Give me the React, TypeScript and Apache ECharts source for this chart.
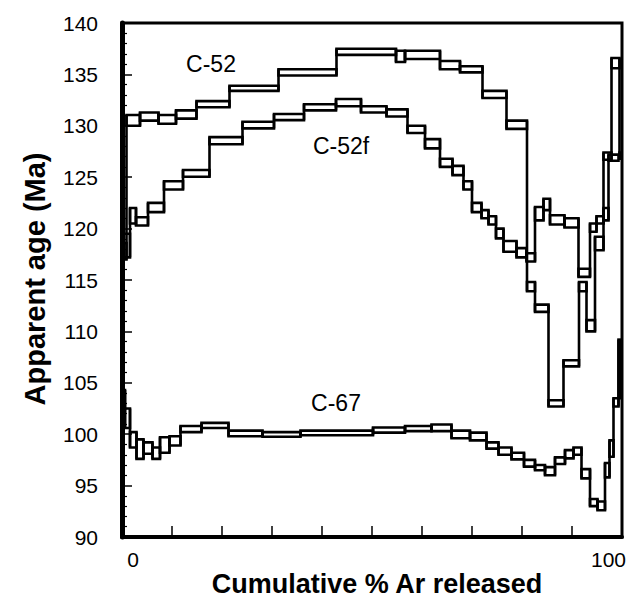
import React, { useEffect, useRef } from "react";
import * as echarts from "echarts";

// C-52 : step boundaries (cumulative % 39Ar) and 2-sigma age envelopes (Ma)
const c52Bounds = [0, 0.9, 3.6, 7.3, 10.8, 14.9, 21.5, 31.3, 42.9, 54.8, 56.6, 63.6, 67.6, 72.1, 76.9, 81.0, 82.6, 85.3, 88.3, 91.4, 92.9, 94.6, 96.3, 97.9, 99.5, 100];
const c52Lo = [117.0, 130.0, 130.5, 130.2, 130.7, 131.8, 133.4, 134.9, 136.9, 136.2, 136.5, 135.5, 135.2, 132.7, 129.7, 113.9, 111.9, 102.7, 106.6, 113.9, 110.0, 117.9, 126.7, 135.6, 126.8];
const c52Hi = [118.6, 131.05, 131.3, 131.05, 131.5, 132.4, 133.9, 135.5, 137.5, 137.3, 137.3, 136.3, 135.8, 133.4, 130.5, 114.8, 112.6, 103.3, 107.2, 114.8, 111.1, 119.2, 127.4, 136.6, 127.4];

// C-52f
const c52fBounds = [0, 1.6, 2.8, 5.2, 8.4, 12.2, 17.5, 24.1, 30.4, 36.4, 42.8, 47.8, 52.9, 57.1, 60.6, 63.6, 66.1, 68.3, 70.0, 71.9, 73.3, 74.8, 76.3, 78.9, 80.9, 82.6, 84.3, 85.6, 88.5, 91.3, 93.6, 94.9, 96.3, 97.3, 99.3];
const c52fLo = [117.2, 120.5, 120.3, 121.6, 123.8, 125.05, 128.2, 129.75, 130.55, 131.5, 131.9, 131.3, 130.9, 129.3, 127.8, 126.0, 125.2, 123.8, 121.6, 121.0, 120.4, 119.05, 117.75, 117.2, 116.8, 120.8, 121.8, 120.4, 120.1, 115.3, 119.7, 120.5, 120.8, 126.6];
const c52fHi = [119.5, 122.0, 121.1, 122.5, 124.6, 125.7, 128.9, 130.4, 131.15, 132.1, 132.6, 131.9, 131.6, 130.0, 128.7, 126.8, 126.1, 124.6, 122.5, 121.8, 121.2, 120.0, 118.8, 118.1, 117.6, 122.1, 122.9, 121.3, 121.0, 116.1, 120.5, 121.2, 122.0, 127.2];

// C-67
const c67Bounds = [0, 0.6, 1.6, 2.9, 4.3, 6.1, 7.6, 9.5, 11.7, 15.9, 21.3, 28.1, 35.7, 50.2, 56.6, 61.9, 65.9, 69.6, 72.9, 75.3, 77.9, 80.4, 82.6, 84.6, 86.6, 88.6, 90.3, 91.9, 93.6, 95.1, 96.6, 97.5, 98.3, 99.3, 99.8];
const c67Lo = [102.5, 100.6, 98.7, 97.6, 98.1, 97.6, 98.2, 98.9, 100.2, 100.6, 99.8, 99.75, 99.9, 100.15, 100.3, 100.3, 99.6, 99.4, 98.6, 98.0, 97.55, 96.85, 96.5, 96.0, 97.1, 97.65, 98.0, 95.7, 93.0, 92.6, 95.8, 97.8, 102.7, 103.5];
const c67Hi = [104.3, 102.5, 100.2, 99.5, 99.2, 98.7, 99.7, 99.8, 100.8, 101.1, 100.35, 100.2, 100.35, 100.65, 100.8, 100.95, 100.35, 100.15, 99.2, 98.7, 98.2, 97.5, 97.0, 96.8, 97.75, 98.45, 98.7, 96.6, 93.7, 93.45, 97.2, 99.4, 103.5, 109.2];

const sampleNames = ["C-52", "C-52f", "C-67"];
const yTicks = [90, 95, 100, 105, 110, 115, 120, 125, 130, 135, 140];
const xLabelValues = [0, 100];

// each item: [x0, x1, lo, hi, prevLo, prevHi] (prev = previous step, for the joining vertical)
function steps(bounds: number[], lo: number[], hi: number[]) {
  return lo.map((l, i) => [
    bounds[i],
    bounds[i + 1],
    l,
    hi[i],
    i > 0 ? lo[i - 1] : l,
    i > 0 ? hi[i - 1] : hi[i],
  ]);
}

const STROKE = 2.6;
const renderBox = (_params: any, api: any) => {
  const x0 = api.value(0);
  const x1 = api.value(1);
  const lo = api.value(2);
  const hi = api.value(3);
  const plo = api.value(4);
  const phi = api.value(5);
  const p0 = api.coord([x0, hi]);
  const p1 = api.coord([x1, lo]);
  const j0 = api.coord([x0, Math.max(hi, phi)]);
  const j1 = api.coord([x0, Math.min(lo, plo)]);
  return {
    type: "group",
    children: [
      {
        type: "rect",
        shape: { x: p0[0], y: p0[1], width: p1[0] - p0[0], height: p1[1] - p0[1] },
        style: { fill: "none", stroke: "#000", lineWidth: STROKE },
      },
      {
        type: "line",
        shape: { x1: j0[0], y1: j0[1], x2: j1[0], y2: j1[1] },
        style: { stroke: "#000", lineWidth: STROKE },
      },
    ],
  };
};

export default function App() {
  const ref = useRef<HTMLDivElement>(null);
  useEffect(() => {
    if (!ref.current) return;
    const chart = echarts.init(ref.current, null, { renderer: "svg" });
    const font = "'Liberation Sans', Arial, Helvetica, sans-serif";
    const mk = (name: string, data: number[][]) => ({
      type: "custom",
      name,
      renderItem: renderBox,
      encode: { x: [0, 1], y: [2, 3] },
      data,
      clip: true,
    });
    chart.setOption({
      animation: false,
      backgroundColor: "#fff",
      grid: { left: 122, right: 8, top: 23, bottom: 64, show: true, borderColor: "#000", borderWidth: 3 },
      xAxis: {
        type: "value",
        min: 0,
        max: 100,
        interval: 10,
        axisLine: { show: true, onZero: false, lineStyle: { color: "#000", width: 4 } },
        axisTick: { show: true, inside: true, length: 11, lineStyle: { color: "#000", width: 1.5 } },
        splitLine: { show: false },
        axisLabel: {
          interval: 0,
          margin: 12,
          color: "#000",
          fontFamily: font,
          fontSize: 21,
          formatter: (v: number) =>
            xLabelValues.includes(v) ? (v === 0 ? "{z|" + v + "}" : "{h|" + v + "}") : "",
          rich: {
            z: { fontSize: 21, fontFamily: font, color: "#000", padding: [0, 0, 0, 22] },
            h: { fontSize: 21, fontFamily: font, color: "#000", padding: [0, 27, 0, 0] },
          },
        },
      },
      yAxis: {
        type: "value",
        min: 90,
        max: 140,
        interval: 5,
        axisLine: { show: true, lineStyle: { color: "#000", width: 5 } },
        axisTick: { show: true, inside: true, length: 10, lineStyle: { color: "#000", width: 1.5 } },
        minorTick: { show: true, splitNumber: 5, length: 5, lineStyle: { color: "#000", width: 1.2 } },
        splitLine: { show: false },
        axisLabel: {
          margin: 24,
          color: "#000",
          fontFamily: font,
          fontSize: 21,
          formatter: (v: number) => (yTicks.includes(v) ? String(v) : ""),
        },
      },
      graphic: [
        {
          type: "text",
          x: 35,
          y: 279,
          rotation: Math.PI / 2,
          style: {
            text: "Apparent age (Ma)",
            font: "bold 29px " + font,
            fill: "#000",
            align: "center",
            verticalAlign: "middle",
          },
        },
        {
          type: "text",
          x: 377,
          y: 584,
          style: {
            text: "Cumulative % Ar released",
            font: "bold 27px " + font,
            fill: "#000",
            align: "center",
            verticalAlign: "middle",
          },
        },
        { type: "text", x: 211, y: 64, style: { text: sampleNames[0], font: "23px " + font, fill: "#000", align: "center", verticalAlign: "middle" } },
        { type: "text", x: 341, y: 146, style: { text: sampleNames[1], font: "23px " + font, fill: "#000", align: "center", verticalAlign: "middle" } },
        { type: "text", x: 336, y: 403, style: { text: sampleNames[2], font: "23px " + font, fill: "#000", align: "center", verticalAlign: "middle" } },
      ],
      series: [
        mk(sampleNames[0], steps(c52Bounds, c52Lo, c52Hi)),
        mk(sampleNames[1], steps(c52fBounds, c52fLo, c52fHi)),
        mk(sampleNames[2], steps(c67Bounds, c67Lo, c67Hi)),
      ],
    });
    return () => chart.dispose();
  }, []);
  return (
    <div
      ref={ref}
      style={{ position: "fixed", left: 0, top: 0, width: 630, height: 601, background: "#fff" }}
    />
  );
}
